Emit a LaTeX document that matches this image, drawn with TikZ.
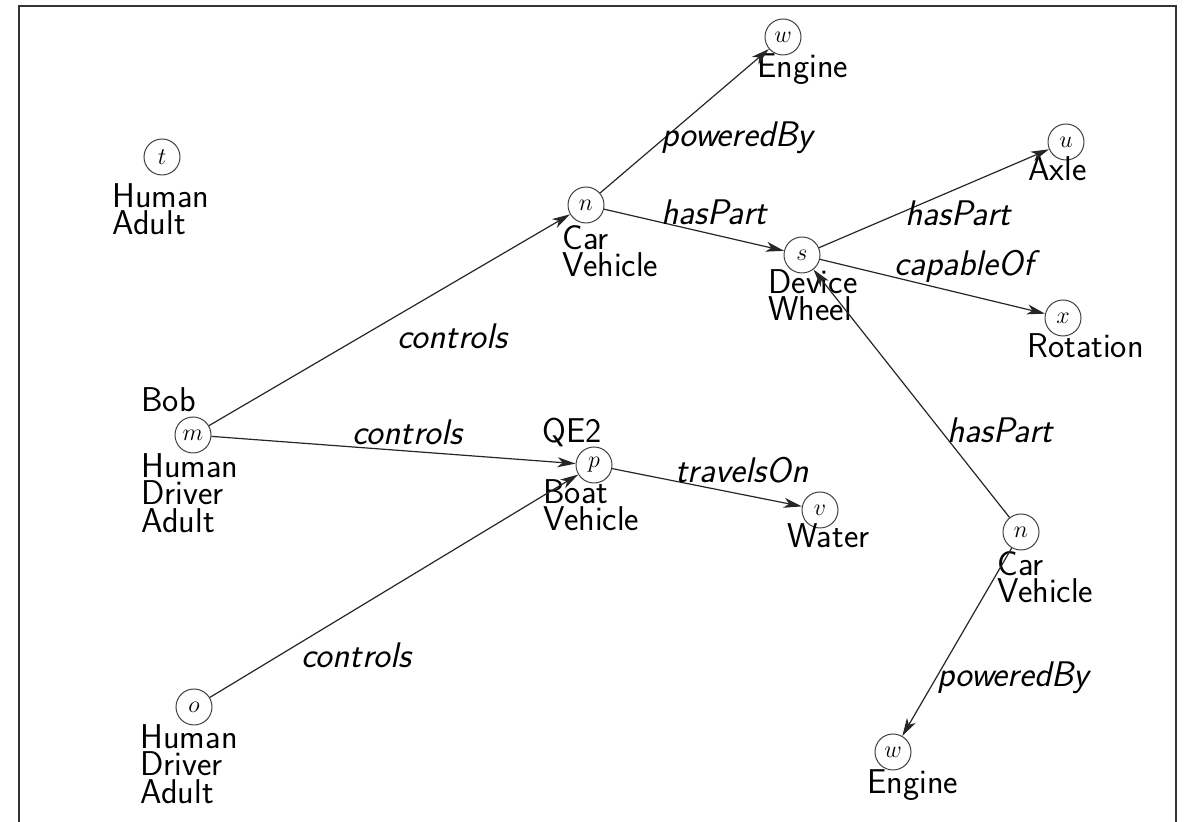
\documentclass[tikz,border=0pt]{standalone}
\usetikzlibrary{arrows.meta}
\begin{document}
\begin{tikzpicture}[x=0.5pt,y=-0.5pt,
  ent/.style={circle, draw=black!75, line width=0.5pt, minimum size=18pt, inner sep=0pt, font=\fontsize{11.5}{13}\selectfont},
  txt/.style={anchor=north west, align=left, inner sep=0pt, font=\sffamily\fontsize{17.2}{13.8}\selectfont},
  lab/.style={inner sep=0pt, font=\sffamily\itshape\fontsize{17.8}{14}\selectfont},
  rel/.style={draw=black!85, line width=0.6pt, -{Stealth[length=9pt,width=5pt,inset=2.5pt]}},
  frameline/.style={draw=black!80, line width=1pt}]
\useasboundingbox (0,0) rectangle (1185,822);
\draw[frameline] (19,822) -- (19,6) -- (1176,6) -- (1176,822);

% entity circles
\node[ent] (t)  at (162,157) {$t$};
\node[ent] (m)  at (193,435) {$m$};
\node[ent] (o)  at (194,707) {$o$};
\node[ent] (n1) at (586,205) {$n$};
\node[ent] (s)  at (802,255) {$s$};
\node[ent] (w1) at (783,37)  {$w$};
\node[ent] (u)  at (1066,142) {$u$};
\node[ent] (x)  at (1063,318) {$x$};
\node[ent] (p)  at (594,465) {$p$};
\node[ent] (v)  at (820,510) {$v$};
\node[ent] (n2) at (1021,532) {$n$};
\node[ent] (w2) at (893,752) {$w$};

% type labels
\node[txt] (tT)  at (112,183) {Human\\Adult};
\node[txt] (mB)  at (141,387) {Bob};
\node[txt] (mT)  at (141,453) {Human\\Driver\\Adult};
\node[txt] (oT)  at (140,724) {Human\\Driver\\Adult};
\node[txt] (n1T) at (562,225) {Car\\Vehicle};
\node[txt] (sT)  at (768,269) {Device\\Wheel};
\node[txt] (w1T) at (757,53)  {Engine};
\node[txt] (uT)  at (1028,156) {Axle};
\node[txt] (xT)  at (1027,333) {Rotation};
\node[txt] (pB)  at (542,418) {QE2};
\node[txt] (pT)  at (543,479) {Boat\\Vehicle};
\node[txt] (vT)  at (787,523) {Water};
\node[txt] (n2T) at (997,551) {Car\\Vehicle};
\node[txt] (w2T) at (867,769) {Engine};

% relations
\draw[rel] (m) -- (n1);
\draw[rel] (m) -- (p);
\draw[rel] (o) -- (p);
\draw[rel] (n1) -- (w1);
\draw[rel] (n1) -- (s);
\draw[rel] (s) -- (u);
\draw[rel] (s) -- (x);
\draw[rel] (n2) -- (s);
\draw[rel] (n2) -- (w2);
\draw[rel] (p) -- (v);

% relation labels
\node[lab] (l1)  at (452,336) {controls};
\node[lab] (l2)  at (407,432) {controls};
\node[lab] (l3)  at (356,655) {controls};
\node[lab] (l4)  at (737,138) {poweredBy};
\node[lab] (l5)  at (714,212) {hasPart};
\node[lab] (l6)  at (958,213) {hasPart};
\node[lab] (l7)  at (964,266) {capableOf};
\node[lab] (l8)  at (742,470) {travelsOn};
\node[lab] (l9)  at (1000,430) {hasPart};
\node[lab] (l10) at (1013,678) {poweredBy};
\end{tikzpicture}
\end{document}
